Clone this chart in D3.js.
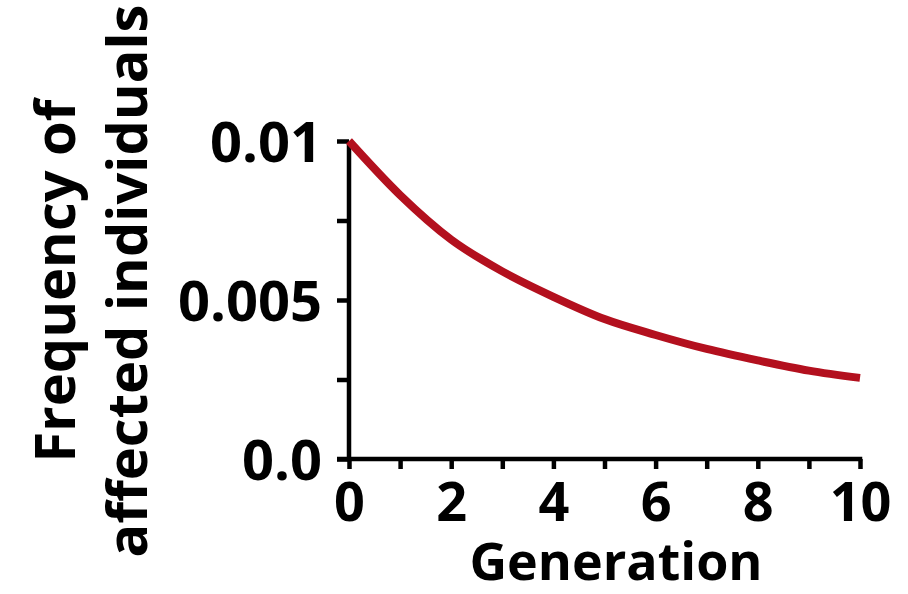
<!DOCTYPE html>
<html>
<head>
<meta charset="utf-8">
<script src="https://cdn.jsdelivr.net/npm/d3@7"></script>
<style>
  html, body { margin: 0; padding: 0; background: #fff; }
  svg { display: block; }
  text { font-family: "Open Sans", "Noto Sans", sans-serif; font-weight: 700; fill: #000; }
</style>
</head>
<body>
<svg id="chart" width="908" height="594"></svg>
<script>
// Data
const generations = [0, 1, 2, 3, 4, 5, 6, 7, 8, 9, 10];
const frequency   = [0.0100, 0.0083, 0.0069, 0.0059, 0.0051, 0.0044, 0.0039, 0.00346, 0.0031, 0.00278, 0.00255];
const xTickValues = [0, 2, 4, 6, 8, 10];
const xMinorTicks = [0, 1, 2, 3, 4, 5, 6, 7, 8, 9, 10];
const yTickValues = [0, 0.0025, 0.005, 0.0075, 0.01];
const yTickLabels = {0: "0.0", 0.005: "0.005", 0.01: "0.01"};
const xTitle = "Generation";
const yTitleLines = ["Frequency of", "affected individuals"];

const svg = d3.select("#chart");
const x = d3.scaleLinear().domain([0, 10]).range([349, 860]);
const y = d3.scaleLinear().domain([0, 0.01]).range([459, 141]);

const axisW = 4.5;

// Y axis
const yAxis = d3.axisLeft(y).tickValues(yTickValues).tickSize(12).tickSizeOuter(0)
  .tickFormat(d => yTickLabels[d] || "");
const gy = svg.append("g").attr("transform", `translate(${x(0)},0)`).call(yAxis);
gy.select(".domain").attr("stroke", "#000").attr("stroke-width", axisW)
  .attr("d", `M0,${y(0.01)}V${y(0) + axisW/2}`);
gy.selectAll(".tick line").attr("stroke", "#000").attr("stroke-width", axisW);
gy.selectAll(".tick text").attr("x", -27).attr("dy", "0.36em")
  .style("font-size", "56px").style("font-family", "'Open Sans', sans-serif").style("font-weight", 700);

// X axis
const xAxisMinor = d3.axisBottom(x).tickValues(xMinorTicks).tickSize(10).tickSizeOuter(0).tickFormat("");
const gxm = svg.append("g").attr("transform", `translate(0,${y(0)})`).call(xAxisMinor);
gxm.select(".domain").attr("stroke", "#000").attr("stroke-width", axisW)
  .attr("d", `M${x(0) - 12},0H${x(10) + axisW/2}`);
gxm.selectAll(".tick line").attr("stroke", "#000").attr("stroke-width", axisW);

const xAxis = d3.axisBottom(x).tickValues(xTickValues).tickSize(0).tickFormat(d3.format("d"));
const gx = svg.append("g").attr("transform", `translate(0,${y(0)})`).call(xAxis);
gx.select(".domain").remove();
gx.selectAll(".tick text").attr("y", 62).attr("dy", 0)
  .style("font-size", "54px").style("font-family", "'Open Sans', sans-serif").style("font-weight", 700);

// Curve
const line = d3.line().x((d, i) => x(generations[i])).y(d => y(d)).curve(d3.curveMonotoneX);
svg.append("path").datum(frequency)
  .attr("d", line).attr("fill", "none").attr("stroke", "#b3101e")
  .attr("stroke-width", 8).attr("stroke-linecap", "butt");

// Titles
svg.append("text").attr("x", 616).attr("y", 580).attr("text-anchor", "middle")
  .style("font-size", "52px").text(xTitle);

const yt = svg.append("text").attr("transform", "translate(0,281) rotate(-90)")
  .attr("text-anchor", "middle").style("font-size", "56px");
yt.append("tspan").attr("x", 0).attr("y", 75).text(yTitleLines[0]);
yt.append("tspan").attr("x", 0).attr("y", 147).text(yTitleLines[1]);
</script>
</body>
</html>
